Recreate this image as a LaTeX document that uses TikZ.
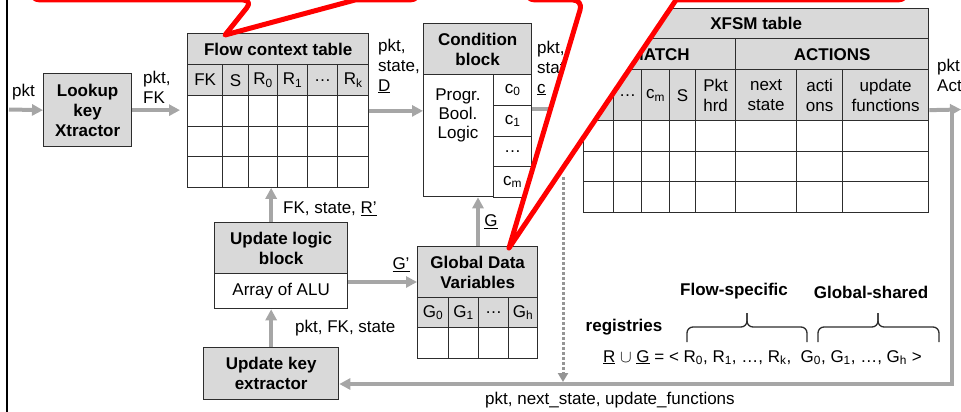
\documentclass[tikz,border=0pt]{standalone}
\usepackage{fontspec}
\setmainfont{Liberation Sans}
\usetikzlibrary{arrows.meta,positioning,calc}
\definecolor{boxfill}{RGB}{217,217,217}
\definecolor{boxline}{RGB}{45,45,45}
\definecolor{flowgray}{RGB}{166,166,166}
\definecolor{callred}{RGB}{255,0,0}
\newcommand\dfont{\fontsize{17}{20}\selectfont}
\tikzset{
  tbox/.style={draw=boxline, fill=boxfill, line width=1.3pt, inner sep=0pt,
               anchor=north west, align=center, font=\dfont\bfseries},
  wbox/.style={draw=boxline, fill=white, line width=1.3pt, inner sep=0pt,
               anchor=north west, align=center, font=\dfont},
  hcell/.style={draw=boxline, fill=boxfill, line width=1.3pt, inner sep=0pt,
               anchor=north west, align=center, font=\dfont},
  cell/.style={draw=boxline, line width=1.3pt, inner sep=0pt, anchor=north west},
  lbl/.style={inner sep=0pt, align=left, anchor=west, font=\dfont},
  blbl/.style={inner sep=0pt, font=\dfont\bfseries},
  flow/.style={-{Triangle[length=11pt,width=11pt]}, line width=4pt, draw=flowgray},
  dflow/.style={-{Triangle[length=9pt,width=10pt]}, line width=3pt, draw=flowgray!90!black,
               dash pattern=on 2.5pt off 2.5pt},
  bracel/.style={line width=1.3pt, draw=boxline, rounded corners=6pt},
  callout/.style={draw=callred, fill=white, line width=5pt, line join=round},
}
\begin{document}
\begin{tikzpicture}[x=1pt, y=-1pt]
  \useasboundingbox (0,0) rectangle (961,412);

  % lookup key extractor
  \node[tbox, minimum width=88pt, minimum height=73pt] (lkx) at (43,73) {Lookup\\key\\Xtractor};

  % flow context table
  \node[tbox, minimum width=181pt, minimum height=31pt] (fct) at (187,33) {Flow context table};
  \foreach \x/\w/\t [count=\i] in {187/35/FK, 222/26/S, 248/29/R\textsubscript{0},
      277/30/R\textsubscript{1}, 307/30/…, 337/31/R\textsubscript{k}} {
    \node[hcell, minimum width=\w*1pt, minimum height=31pt] (fct-\i) at (\x,64) {\t};
    \foreach \y [count=\r] in {95,125.5,156}
      \node[cell, minimum width=\w*1pt, minimum height=30.5pt] (fct-\i-\r) at (\x,\y) {};
  }

  % condition block
  \node[tbox, minimum width=108pt, minimum height=51pt] (cb) at (423,23) {Condition\\block};
  \node[wbox, minimum width=70pt, minimum height=122pt] (cb-body) at (423,74) {};
  \node[font=\fontsize{17}{19}\selectfont, align=center, inner sep=0pt] (cb-logic) at (458,115) {Progr.\\Bool.\\Logic};
  \foreach \y/\t [count=\i] in {74/c\textsubscript{0}, 105/c\textsubscript{1}, 135.5/…, 166/c\textsubscript{m}}
    \node[wbox, minimum width=38pt, minimum height=30.5pt] (cb-c\i) at (493,\y) {\t};

  % XFSM table
  \node[tbox, minimum width=345pt, minimum height=30pt] (xt) at (583,8) {XFSM table};
  \node[tbox, minimum width=152pt, minimum height=31pt] (xt-match) at (583,38) {MATCH};
  \node[tbox, minimum width=193pt, minimum height=31pt] (xt-act) at (735,38) {ACTIONS};
  \foreach \x/\w/\t [count=\i] in {583/30/c\textsubscript{0}, 613/28/…, 641/28/c\textsubscript{m},
      669/26/S, 695/40/Pkt\\hrd, 735/61/next\\state, 796/46/acti\\ons, 842/86/update\\functions} {
    \node[hcell, minimum width=\w*1pt, minimum height=51pt] (xt-h\i) at (\x,69) {\t};
    \foreach \y [count=\r] in {120,150.5,181}
      \node[cell, minimum width=\w*1pt, minimum height=30.5pt] (xt-\i-\r) at (\x,\y) {};
  }

  % global data variables
  \node[tbox, minimum width=120pt, minimum height=51pt] (gdv) at (417,246) {Global Data\\Variables};
  \foreach \x/\w/\t [count=\i] in {417/31/G\textsubscript{0}, 448/30/G\textsubscript{1},
      478/30/…, 508/29/G\textsubscript{h}} {
    \node[hcell, minimum width=\w*1pt, minimum height=30pt] (gdv-\i) at (\x,297) {\t};
    \node[cell, minimum width=\w*1pt, minimum height=31pt] (gdv-\i-1) at (\x,327) {};
  }

  % update blocks
  \node[tbox, minimum width=133pt, minimum height=51pt] (ulb) at (214,222) {Update logic\\block};
  \node[wbox, minimum width=133pt, minimum height=35pt] (ulb-body) at (214,273) {Array of ALU};
  \node[tbox, minimum width=135pt, minimum height=52pt] (ukx) at (203,347) {Update key\\extractor};

  % connectors
  \coordinate (pin) at (9,109.5);
  \coordinate (aout) at (961,109.5);
  \coordinate (fb) at (952,109.5);
  \coordinate (fbc) at (952,384);
  \coordinate (dtop) at (563,177);
  \draw[flow] (pin) -- (lkx.west);
  \draw[flow, shorten >=7pt] (lkx.east) -- (lkx.east -| fct-1-1.west);
  \draw[flow] (fct-6-1.east) -- (fct-6-1.east -| cb-body.west);
  \draw[flow] ([yshift=-4pt]cb-c2.north east) -- ([yshift=-4pt]cb-c2.north east -| xt-h1.west);
  \draw[flow] ([yshift=-15pt]xt-h8.east) -- (aout);
  \draw[flow] (fb) -- (fbc) -- (fbc -| ukx.east);
  \draw[dflow] (dtop) -- ([yshift=2pt]dtop |- fbc);
  \draw[flow] (ukx.north) -- (ukx.north |- ulb-body.south);
  \draw[flow] (ukx.north |- ulb.north) -- (ukx.north |- fct-3-3.south);
  \draw[flow] ([yshift=-9pt]ulb-body.north east) -- ([yshift=-9pt]ulb-body.north east -| gdv.west);
  \draw[flow] (gdv.north -| gdv-3.west) -- (gdv-3.west |- cb-body.south);

  % labels
  \node[lbl] (l-pkt) at (12,92) {pkt};
  \node[lbl] (l-fk) at (143,87) {pkt,\\FK};
  \node[lbl] (l-d) at (378,66) {pkt,\\state,\\\underline{D}};
  \node[lbl] (l-c) at (537,68) {pkt,\\state,\\\underline{c}};
  \node[lbl] (l-act) at (937,75) {pkt,\\Actions};
  \node[lbl] (l-r) at (283,209) {FK, state, \underline{R’}};
  \node[lbl] (l-upd) at (295,328) {pkt, FK, state};
  \node[font=\dfont, inner sep=0pt] (l-g) at (491,222) {\underline{G}};
  \node[font=\dfont, inner sep=0pt] (l-gp) at (401,265) {\underline{G’}};
  \node[lbl] (l-next) at (485,400) {pkt, next\_state, update\_functions};

  % registries
  \node[blbl] (fspec) at (734,291) {Flow-specific};
  \node[blbl] (gshare) at (871,292) {Global-shared};
  \node[blbl] (reg) at (624,327) {registries};
  \draw[bracel] (687,342) -- (687,327) -- (747,327) -- (747,313);
  \draw[bracel] (747,313) -- (747,327) -- (807,327) -- (807,342);
  \draw[bracel] (818,342) -- (818,327) -- (878,327) -- (878,313);
  \draw[bracel] (878,313) -- (878,327) -- (939,327) -- (939,342);
  \node[lbl, anchor=base west] (regs) at (603,362)
    {\underline{R} $\cup$ \underline{G} = < R\textsubscript{0}, R\textsubscript{1}, …, R\textsubscript{k},\ \ G\textsubscript{0}, G\textsubscript{1}, …, G\textsubscript{h} >};

  % frame edge and callouts
  \draw[line width=2.5pt] (7,0) -- (7,412);
  \draw[callout] (30,-20) [rounded corners=10pt] -- (30,0) -- (253,0) [sharp corners] -- (225,35)
    -- (355,0) [rounded corners=10pt] -- (420,0) -- (420,-20);
  \draw[callout] (525,-20) [rounded corners=10pt] -- (525,0) -- (583,0) [sharp corners] -- (509,248)
    -- (676,0) [rounded corners=10pt] -- (908,0) -- (908,-20);
\end{tikzpicture}
\end{document}
